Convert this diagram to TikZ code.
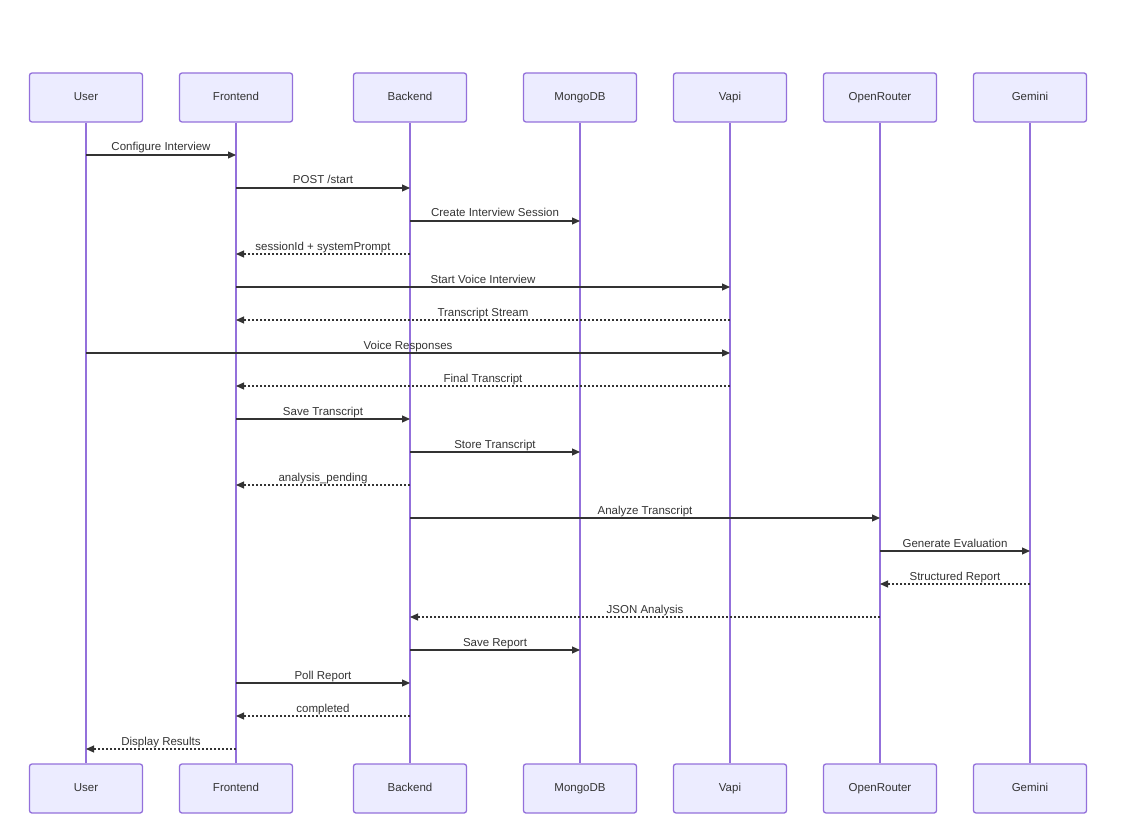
\documentclass[tikz,border=0pt]{standalone}
\usepackage{fontspec}
\setmainfont{Liberation Sans}
\usetikzlibrary{arrows.meta,calc}
\definecolor{actfill}{HTML}{ECECFF}
\definecolor{actline}{HTML}{9370DB}
\definecolor{msg}{HTML}{333333}
\begin{document}
\begin{tikzpicture}[x=1pt,y=-1pt,
  actor/.style={draw=actline,fill=actfill,line width=1.3pt,rounded corners=2.5pt,minimum width=113pt,minimum height=49pt,inner sep=0pt,text height=8.5pt,text depth=2.5pt,font=\fontsize{11.5}{13}\selectfont,text=msg},
  life/.style={draw=actline,line width=1.3pt},
  sync/.style={draw=msg,line width=1.1pt,-{Triangle[length=8pt,width=7pt]}},
  reply/.style={draw=msg,line width=1.1pt,dash pattern=on 2pt off 2pt,-{Triangle[length=8pt,width=7pt]}},
  lbl/.style={font=\fontsize{11.5}{13}\selectfont,text=msg,inner sep=0pt}]
\useasboundingbox (0,0) rectangle (1144,840);
\foreach \n/\t/\x in {U/User/86,F/Frontend/236,B/Backend/410,M/MongoDB/580,V/Vapi/730,O/OpenRouter/880,G/Gemini/1030}{
  \node[actor] (\n t) at (\x,97.5) {\t};
  \node[actor] (\n b) at (\x,788.5) {\t};
  \draw[life] (\n t.south) -- (\n b.north);
}
\foreach \a/\b/\y/\s/\t [count=\i] in {
  U/F/155/sync/Configure Interview,
  F/B/188/sync/{POST /start},
  B/M/221/sync/Create Interview Session,
  B/F/254/reply/sessionId + systemPrompt,
  F/V/287/sync/Start Voice Interview,
  V/F/320/reply/Transcript Stream,
  U/V/353/sync/Voice Responses,
  V/F/386/reply/Final Transcript,
  F/B/419/sync/Save Transcript,
  B/M/452/sync/Store Transcript,
  B/F/485/reply/analysis\_pending,
  B/O/518/sync/Analyze Transcript,
  O/G/551/sync/Generate Evaluation,
  G/O/584/reply/Structured Report,
  O/B/617/reply/JSON Analysis,
  B/M/650/sync/Save Report,
  F/B/683/sync/Poll Report,
  B/F/716/reply/completed,
  F/U/749/reply/Display Results}{
  \coordinate (s\i) at (\a t.south |- 0,\y);
  \coordinate (e\i) at (\b t.south |- 0,\y);
  \draw[\s] (s\i) -- (e\i);
  \node[lbl,anchor=base] (l\i) at ($(s\i)!0.5!(e\i)+(0,-4)$) {\t};
}
\end{tikzpicture}
\end{document}
